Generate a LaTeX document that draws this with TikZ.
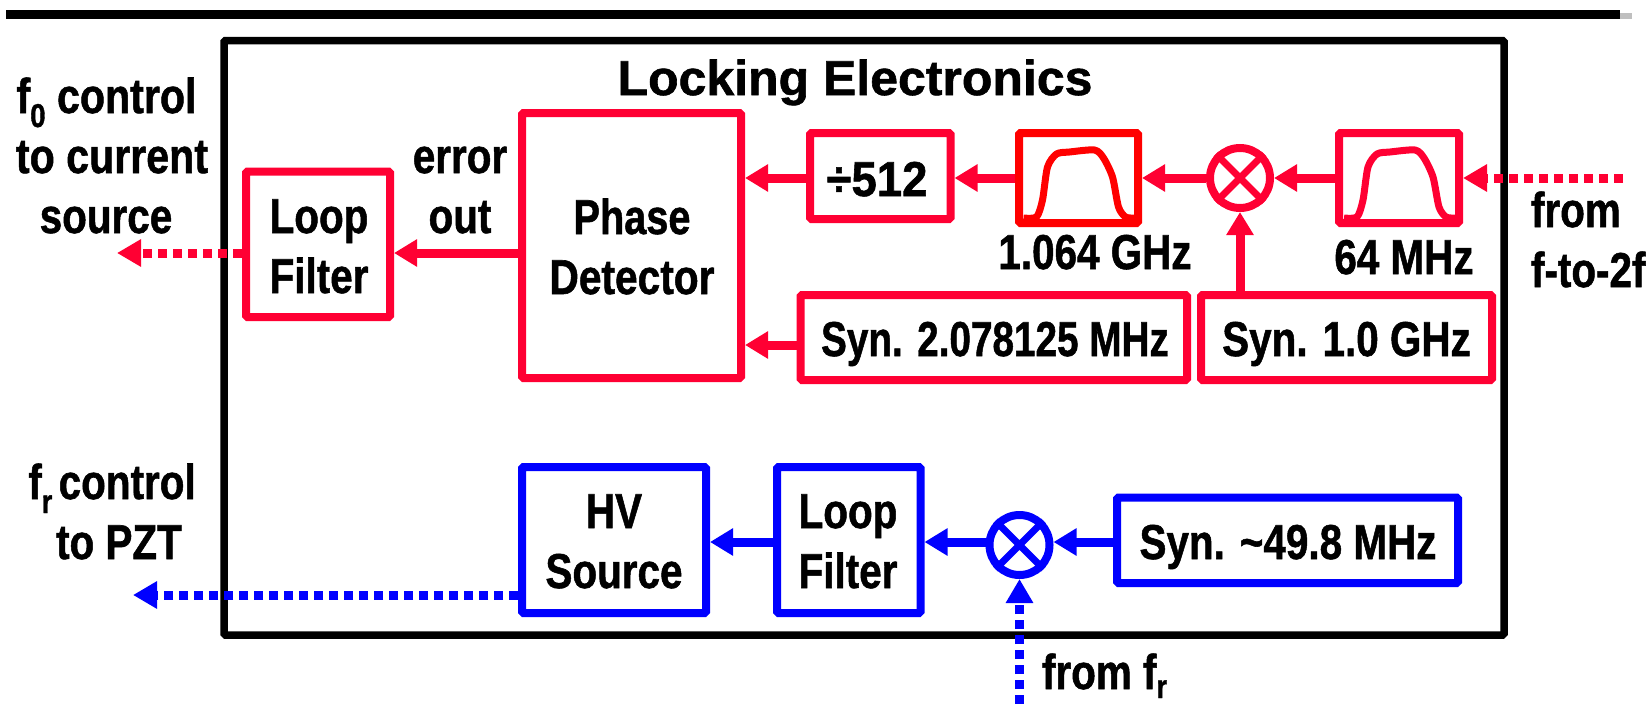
\documentclass[tikz,border=0pt]{standalone}
\usepackage{graphicx}
\usepackage{fontspec}
\setmainfont{Liberation Sans}[BoldFont=* Bold,BoldFeatures={FakeBold=1.2}]
\usetikzlibrary{arrows.meta}
\definecolor{lred}{HTML}{FF0033}
\definecolor{lblue}{HTML}{0000FF}
\newcommand{\st}[2][.825]{\scalebox{#1}[1]{#2}}
\newcommand{\sbs}[2][-14pt]{\raisebox{#1}{\fontsize{33}{33}\selectfont #2}}
\newcommand{\passband}[2]{\draw[line width=7pt,#2,line join=round,shift={(#1.center)}] plot[smooth,tension=.45] coordinates {(-55,40) (-42,39) (-36,22) (-31,-11) (-22,-24) (-9,-26) (16,-28) (25,-20) (34,-1) (40,29) (47,39) (56,40)};}
\tikzset{
  lab/.style={font=\bfseries\fontsize{49}{60}\selectfont,inner sep=0pt,outer sep=0pt,text=black,align=center,anchor=base},
  labl/.style={lab,align=left,anchor=base west},
  blockbox/.style={draw,line width=8pt,rounded corners=1.5pt,inner sep=0pt,outer sep=.5\pgflinewidth,anchor=center},
  redbox/.style={blockbox,draw=lred},
  bluebox/.style={blockbox,draw=lblue},
  mixer/.style={circle,draw,line width=8pt,minimum size=60pt,inner sep=0pt},
  sol/.style={line width=9pt,-{Triangle[length=23pt,width=26pt]}},
  dots/.style={line width=9pt,dash pattern=on 9pt off 6pt,-{Triangle[length=24pt,width=26pt]}},
}
\begin{document}
\begin{tikzpicture}[x=1pt,y=-1pt]
\useasboundingbox (0,0) rectangle (1652,704);
\fill[black!25] (1620,13) rectangle (1632,19);
\fill[black] (6,10) rectangle (1620,19);
\node[draw=black,line width=7.5pt,rounded corners=1.5pt,inner sep=0pt,minimum width=1280pt,minimum height=594.5pt] (outer) at (864,337.75) {};
\node[lab] (title) at (855,95) {\st[1.02]{Locking Electronics}};
% red boxes
\node[redbox,minimum width=144pt,minimum height=145.5pt] (lf1) at (318,244.25) {};
\node[redbox,minimum width=219pt,minimum height=265pt] (pd) at (631.5,245.5) {};
\node[redbox,minimum width=140.5pt,minimum height=86pt] (div) at (880.25,176) {};
\node[redbox,draw=red,minimum width=119pt,minimum height=90pt] (bp1) at (1078.5,178) {};
\node[redbox,minimum width=120pt,minimum height=90pt] (bp2) at (1399,178) {};
\node[mixer,draw=lred] (mx1) at (1240,178) {};
\draw[lred,line width=7pt] (mx1.north west) -- (mx1.south east) (mx1.north east) -- (mx1.south west);
\node[redbox,minimum width=386.5pt,minimum height=85pt] (syn2) at (993.75,337.5) {};
\node[redbox,minimum width=291pt,minimum height=85pt] (syn1) at (1346.5,337.5) {};
\passband{bp1}{red}
\passband{bp2}{lred}
% blue boxes
\node[bluebox,minimum width=184pt,minimum height=146pt] (hv) at (614,540) {};
\node[bluebox,minimum width=143.5pt,minimum height=146pt] (lf2) at (848.75,540) {};
\node[mixer,draw=lblue] (mx2) at (1019.5,545) {};
\draw[lblue,line width=7pt] (mx2.north west) -- (mx2.south east) (mx2.north east) -- (mx2.south west);
\node[bluebox,minimum width=341pt,minimum height=85.5pt] (syn3) at (1287.5,540.25) {};
% free ends and rails
\coordinate (yA) at (0,253);
\coordinate (yB) at (0,178);
\coordinate (yC) at (0,345);
\coordinate (yD) at (0,542);
\coordinate (yE) at (0,595);
\coordinate (outF0) at (117,253);
\coordinate (inF2F) at (1623,178);
\coordinate (outFr) at (133,595);
\coordinate (inFr) at (1019.5,704);
% red connectors
\draw[lred,sol] (pd.west |- yA) -- (lf1.east |- yA);
\draw[lred,dots] (lf1.west |- yA) -- (outF0);
\draw[lred,sol] (div.west |- yB) -- (pd.east |- yB);
\draw[lred,sol] (syn2.west |- yC) -- (pd.east |- yC);
\draw[lred,sol] (bp1.west) -- (div.east |- yB);
\draw[lred,sol] (mx1.west) -- (bp1.east);
\draw[lred,sol] (bp2.west) -- (mx1.east);
\draw[lred,dots] (inF2F) -- (bp2.east);
\draw[lred,sol] (mx1.south |- syn1.north) -- (mx1.south);
% blue connectors
\draw[lblue,sol] (syn3.west |- yD) -- (mx2.east |- yD);
\draw[lblue,sol] (mx2.west |- yD) -- (lf2.east |- yD);
\draw[lblue,sol] (lf2.west |- yD) -- (hv.east |- yD);
\draw[lblue,dots] (hv.west |- yE) -- (outFr);
\draw[lblue,dots] (inFr) -- (mx2.south);
% labels
\node[lab] (t1) at (319,293) {\st{Loop}\\\st{Filter}};
\node[lab] (t2) at (632,294) {\st[.81]{Phase}\\\st[.83]{Detector}};
\node[lab] (t3) at (877,196) {\st[.93]{÷512}};
\node[lab] (t4) at (1095,269) {\st{1.064 GHz}};
\node[lab] (t5) at (1404,274) {\st{64 MHz}};
\node[labl] (t6) at (1531,287) {\st{from}\\\st{f-to-2f}};
\node[lab] (t7) at (995,356) {\st[.79]{Syn. 2.078125 MHz}};
\node[lab] (t8) at (1346.5,356) {\st{Syn. 1.0 GHz}};
\node[lab] (t9) at (460,233) {\st{error}\\\st{out}};
\node[lab] (t10) at (112,233) {\st[.84]{f\sbs{0} control}\kern11pt\\\st[.84]{to current}\\\st{source}\kern12pt};
\node[lab] (t11) at (614,588) {\st{HV}\\\st{Source}};
\node[lab] (t12) at (848,588) {\st{Loop}\\\st{Filter}};
\node[lab] (t13) at (1288,559) {\st{Syn. \textasciitilde49.8 MHz}};
\node[lab] (t14) at (112,559) {\st{f\sbs{r}\hspace{-6pt} control}\\\hspace{14pt}\st{to PZT}};
\node[labl] (t15) at (1042,689) {\st{from f\sbs[-9pt]{r}}};
\end{tikzpicture}
\end{document}
